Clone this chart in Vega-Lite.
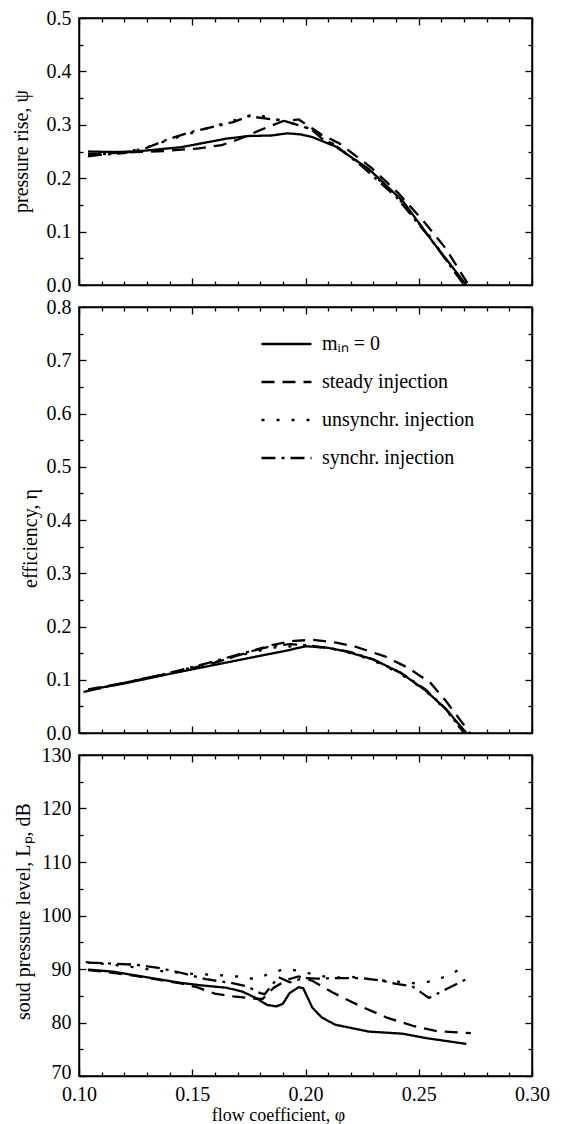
{
  "$schema": "https://vega.github.io/schema/vega-lite/v6.json",
  "padding": {"left": 10, "top": 7, "right": 5, "bottom": 1},
  "background": "white",
  "datasets": {
    "psi": [
      {"s": "mᵢₙ = 0", "x": 0.104, "y": 0.250}, {"s": "mᵢₙ = 0", "x": 0.115, "y": 0.249}, {"s": "mᵢₙ = 0", "x": 0.125, "y": 0.250}, {"s": "mᵢₙ = 0", "x": 0.135, "y": 0.254}, {"s": "mᵢₙ = 0", "x": 0.145, "y": 0.258}, {"s": "mᵢₙ = 0", "x": 0.155, "y": 0.266}, {"s": "mᵢₙ = 0", "x": 0.165, "y": 0.274}, {"s": "mᵢₙ = 0", "x": 0.175, "y": 0.279}, {"s": "mᵢₙ = 0", "x": 0.185, "y": 0.280}, {"s": "mᵢₙ = 0", "x": 0.192, "y": 0.284}, {"s": "mᵢₙ = 0", "x": 0.198, "y": 0.282}, {"s": "mᵢₙ = 0", "x": 0.203, "y": 0.277}, {"s": "mᵢₙ = 0", "x": 0.213, "y": 0.260}, {"s": "mᵢₙ = 0", "x": 0.228, "y": 0.217}, {"s": "mᵢₙ = 0", "x": 0.243, "y": 0.157}, {"s": "mᵢₙ = 0", "x": 0.256, "y": 0.082}, {"s": "mᵢₙ = 0", "x": 0.271, "y": 0.0},
      {"s": "steady injection", "x": 0.104, "y": 0.245}, {"s": "steady injection", "x": 0.115, "y": 0.247}, {"s": "steady injection", "x": 0.125, "y": 0.249}, {"s": "steady injection", "x": 0.138, "y": 0.251}, {"s": "steady injection", "x": 0.153, "y": 0.256}, {"s": "steady injection", "x": 0.163, "y": 0.262}, {"s": "steady injection", "x": 0.170, "y": 0.272}, {"s": "steady injection", "x": 0.180, "y": 0.290}, {"s": "steady injection", "x": 0.190, "y": 0.307}, {"s": "steady injection", "x": 0.197, "y": 0.310}, {"s": "steady injection", "x": 0.203, "y": 0.293}, {"s": "steady injection", "x": 0.207, "y": 0.282}, {"s": "steady injection", "x": 0.215, "y": 0.265}, {"s": "steady injection", "x": 0.229, "y": 0.220}, {"s": "steady injection", "x": 0.241, "y": 0.172}, {"s": "steady injection", "x": 0.252, "y": 0.120}, {"s": "steady injection", "x": 0.262, "y": 0.068}, {"s": "steady injection", "x": 0.272, "y": 0.0},
      {"s": "unsynchr. injection", "x": 0.104, "y": 0.243}, {"s": "unsynchr. injection", "x": 0.110, "y": 0.245}, {"s": "unsynchr. injection", "x": 0.120, "y": 0.248}, {"s": "unsynchr. injection", "x": 0.130, "y": 0.258}, {"s": "unsynchr. injection", "x": 0.140, "y": 0.272}, {"s": "unsynchr. injection", "x": 0.150, "y": 0.285}, {"s": "unsynchr. injection", "x": 0.160, "y": 0.298}, {"s": "unsynchr. injection", "x": 0.170, "y": 0.310}, {"s": "unsynchr. injection", "x": 0.177, "y": 0.320}, {"s": "unsynchr. injection", "x": 0.185, "y": 0.313}, {"s": "unsynchr. injection", "x": 0.192, "y": 0.305}, {"s": "unsynchr. injection", "x": 0.200, "y": 0.296}, {"s": "unsynchr. injection", "x": 0.205, "y": 0.285}, {"s": "unsynchr. injection", "x": 0.212, "y": 0.265}, {"s": "unsynchr. injection", "x": 0.225, "y": 0.225}, {"s": "unsynchr. injection", "x": 0.240, "y": 0.168}, {"s": "unsynchr. injection", "x": 0.255, "y": 0.090}, {"s": "unsynchr. injection", "x": 0.270, "y": 0.0},
      {"s": "synchr. injection", "x": 0.104, "y": 0.241}, {"s": "synchr. injection", "x": 0.110, "y": 0.244}, {"s": "synchr. injection", "x": 0.120, "y": 0.247}, {"s": "synchr. injection", "x": 0.130, "y": 0.257}, {"s": "synchr. injection", "x": 0.140, "y": 0.274}, {"s": "synchr. injection", "x": 0.150, "y": 0.287}, {"s": "synchr. injection", "x": 0.160, "y": 0.297}, {"s": "synchr. injection", "x": 0.168, "y": 0.305}, {"s": "synchr. injection", "x": 0.175, "y": 0.316}, {"s": "synchr. injection", "x": 0.182, "y": 0.312}, {"s": "synchr. injection", "x": 0.190, "y": 0.308}, {"s": "synchr. injection", "x": 0.198, "y": 0.298}, {"s": "synchr. injection", "x": 0.203, "y": 0.290}, {"s": "synchr. injection", "x": 0.207, "y": 0.275}, {"s": "synchr. injection", "x": 0.213, "y": 0.262}, {"s": "synchr. injection", "x": 0.225, "y": 0.222}, {"s": "synchr. injection", "x": 0.240, "y": 0.165}, {"s": "synchr. injection", "x": 0.255, "y": 0.088}, {"s": "synchr. injection", "x": 0.270, "y": 0.0}
    ],
    "eta": [
      {"s": "mᵢₙ = 0", "x": 0.104, "y": 0.081}, {"s": "mᵢₙ = 0", "x": 0.120, "y": 0.093}, {"s": "mᵢₙ = 0", "x": 0.140, "y": 0.111}, {"s": "mᵢₙ = 0", "x": 0.160, "y": 0.128}, {"s": "mᵢₙ = 0", "x": 0.180, "y": 0.145}, {"s": "mᵢₙ = 0", "x": 0.192, "y": 0.155}, {"s": "mᵢₙ = 0", "x": 0.200, "y": 0.163}, {"s": "mᵢₙ = 0", "x": 0.210, "y": 0.160}, {"s": "mᵢₙ = 0", "x": 0.218, "y": 0.153}, {"s": "mᵢₙ = 0", "x": 0.230, "y": 0.138}, {"s": "mᵢₙ = 0", "x": 0.242, "y": 0.113}, {"s": "mᵢₙ = 0", "x": 0.253, "y": 0.080}, {"s": "mᵢₙ = 0", "x": 0.262, "y": 0.045}, {"s": "mᵢₙ = 0", "x": 0.271, "y": 0.0},
      {"s": "steady injection", "x": 0.104, "y": 0.082}, {"s": "steady injection", "x": 0.120, "y": 0.094}, {"s": "steady injection", "x": 0.140, "y": 0.112}, {"s": "steady injection", "x": 0.160, "y": 0.132}, {"s": "steady injection", "x": 0.175, "y": 0.152}, {"s": "steady injection", "x": 0.185, "y": 0.165}, {"s": "steady injection", "x": 0.195, "y": 0.173}, {"s": "steady injection", "x": 0.203, "y": 0.175}, {"s": "steady injection", "x": 0.213, "y": 0.170}, {"s": "steady injection", "x": 0.222, "y": 0.162}, {"s": "steady injection", "x": 0.235, "y": 0.144}, {"s": "steady injection", "x": 0.245, "y": 0.123}, {"s": "steady injection", "x": 0.255, "y": 0.095}, {"s": "steady injection", "x": 0.262, "y": 0.060}, {"s": "steady injection", "x": 0.2726, "y": 0.0},
      {"s": "unsynchr. injection", "x": 0.102, "y": 0.077}, {"s": "unsynchr. injection", "x": 0.120, "y": 0.094}, {"s": "unsynchr. injection", "x": 0.140, "y": 0.113}, {"s": "unsynchr. injection", "x": 0.160, "y": 0.133}, {"s": "unsynchr. injection", "x": 0.175, "y": 0.150}, {"s": "unsynchr. injection", "x": 0.185, "y": 0.160}, {"s": "unsynchr. injection", "x": 0.195, "y": 0.163}, {"s": "unsynchr. injection", "x": 0.200, "y": 0.163}, {"s": "unsynchr. injection", "x": 0.210, "y": 0.160}, {"s": "unsynchr. injection", "x": 0.220, "y": 0.150}, {"s": "unsynchr. injection", "x": 0.230, "y": 0.136}, {"s": "unsynchr. injection", "x": 0.242, "y": 0.111}, {"s": "unsynchr. injection", "x": 0.253, "y": 0.079}, {"s": "unsynchr. injection", "x": 0.262, "y": 0.044}, {"s": "unsynchr. injection", "x": 0.270, "y": 0.0},
      {"s": "synchr. injection", "x": 0.103, "y": 0.078}, {"s": "synchr. injection", "x": 0.120, "y": 0.094}, {"s": "synchr. injection", "x": 0.140, "y": 0.113}, {"s": "synchr. injection", "x": 0.160, "y": 0.135}, {"s": "synchr. injection", "x": 0.175, "y": 0.153}, {"s": "synchr. injection", "x": 0.185, "y": 0.163}, {"s": "synchr. injection", "x": 0.193, "y": 0.167}, {"s": "synchr. injection", "x": 0.200, "y": 0.165}, {"s": "synchr. injection", "x": 0.210, "y": 0.160}, {"s": "synchr. injection", "x": 0.220, "y": 0.152}, {"s": "synchr. injection", "x": 0.230, "y": 0.138}, {"s": "synchr. injection", "x": 0.242, "y": 0.113}, {"s": "synchr. injection", "x": 0.253, "y": 0.082}, {"s": "synchr. injection", "x": 0.262, "y": 0.045}, {"s": "synchr. injection", "x": 0.270, "y": 0.0}
    ],
    "lp": [
      {"s": "mᵢₙ = 0", "x": 0.104, "y": 89.9}, {"s": "mᵢₙ = 0", "x": 0.115, "y": 89.5}, {"s": "mᵢₙ = 0", "x": 0.125, "y": 88.8}, {"s": "mᵢₙ = 0", "x": 0.135, "y": 88.1}, {"s": "mᵢₙ = 0", "x": 0.145, "y": 87.4}, {"s": "mᵢₙ = 0", "x": 0.155, "y": 86.9}, {"s": "mᵢₙ = 0", "x": 0.165, "y": 86.5}, {"s": "mᵢₙ = 0", "x": 0.172, "y": 85.8}, {"s": "mᵢₙ = 0", "x": 0.178, "y": 84.6}, {"s": "mᵢₙ = 0", "x": 0.183, "y": 83.3}, {"s": "mᵢₙ = 0", "x": 0.187, "y": 83.0}, {"s": "mᵢₙ = 0", "x": 0.190, "y": 83.5}, {"s": "mᵢₙ = 0", "x": 0.193, "y": 85.5}, {"s": "mᵢₙ = 0", "x": 0.197, "y": 86.6}, {"s": "mᵢₙ = 0", "x": 0.199, "y": 86.4}, {"s": "mᵢₙ = 0", "x": 0.203, "y": 82.8}, {"s": "mᵢₙ = 0", "x": 0.207, "y": 81.0}, {"s": "mᵢₙ = 0", "x": 0.213, "y": 79.6}, {"s": "mᵢₙ = 0", "x": 0.228, "y": 78.3}, {"s": "mᵢₙ = 0", "x": 0.243, "y": 77.9}, {"s": "mᵢₙ = 0", "x": 0.253, "y": 77.1}, {"s": "mᵢₙ = 0", "x": 0.271, "y": 76.0},
      {"s": "steady injection", "x": 0.104, "y": 89.8}, {"s": "steady injection", "x": 0.115, "y": 89.3}, {"s": "steady injection", "x": 0.125, "y": 88.7}, {"s": "steady injection", "x": 0.135, "y": 88.0}, {"s": "steady injection", "x": 0.145, "y": 87.3}, {"s": "steady injection", "x": 0.152, "y": 86.6}, {"s": "steady injection", "x": 0.160, "y": 85.4}, {"s": "steady injection", "x": 0.168, "y": 84.9}, {"s": "steady injection", "x": 0.176, "y": 84.5}, {"s": "steady injection", "x": 0.181, "y": 84.4}, {"s": "steady injection", "x": 0.186, "y": 86.5}, {"s": "steady injection", "x": 0.192, "y": 88.0}, {"s": "steady injection", "x": 0.197, "y": 88.6}, {"s": "steady injection", "x": 0.203, "y": 87.8}, {"s": "steady injection", "x": 0.212, "y": 85.6}, {"s": "steady injection", "x": 0.224, "y": 83.1}, {"s": "steady injection", "x": 0.236, "y": 80.9}, {"s": "steady injection", "x": 0.248, "y": 79.3}, {"s": "steady injection", "x": 0.258, "y": 78.4}, {"s": "steady injection", "x": 0.273, "y": 78.0},
      {"s": "unsynchr. injection", "x": 0.103, "y": 91.3}, {"s": "unsynchr. injection", "x": 0.115, "y": 90.8}, {"s": "unsynchr. injection", "x": 0.125, "y": 90.3}, {"s": "unsynchr. injection", "x": 0.138, "y": 89.5}, {"s": "unsynchr. injection", "x": 0.150, "y": 89.1}, {"s": "unsynchr. injection", "x": 0.160, "y": 88.9}, {"s": "unsynchr. injection", "x": 0.170, "y": 88.6}, {"s": "unsynchr. injection", "x": 0.178, "y": 88.1}, {"s": "unsynchr. injection", "x": 0.185, "y": 89.3}, {"s": "unsynchr. injection", "x": 0.191, "y": 90.0}, {"s": "unsynchr. injection", "x": 0.198, "y": 89.6}, {"s": "unsynchr. injection", "x": 0.205, "y": 88.8}, {"s": "unsynchr. injection", "x": 0.212, "y": 88.4}, {"s": "unsynchr. injection", "x": 0.221, "y": 88.5}, {"s": "unsynchr. injection", "x": 0.232, "y": 87.9}, {"s": "unsynchr. injection", "x": 0.242, "y": 87.6}, {"s": "unsynchr. injection", "x": 0.249, "y": 87.3}, {"s": "unsynchr. injection", "x": 0.257, "y": 87.8}, {"s": "unsynchr. injection", "x": 0.264, "y": 89.0}, {"s": "unsynchr. injection", "x": 0.270, "y": 90.4},
      {"s": "synchr. injection", "x": 0.104, "y": 91.2}, {"s": "synchr. injection", "x": 0.115, "y": 91.0}, {"s": "synchr. injection", "x": 0.125, "y": 90.8}, {"s": "synchr. injection", "x": 0.135, "y": 90.2}, {"s": "synchr. injection", "x": 0.145, "y": 89.3}, {"s": "synchr. injection", "x": 0.156, "y": 88.1}, {"s": "synchr. injection", "x": 0.167, "y": 87.4}, {"s": "synchr. injection", "x": 0.174, "y": 86.8}, {"s": "synchr. injection", "x": 0.180, "y": 85.5}, {"s": "synchr. injection", "x": 0.182, "y": 85.3}, {"s": "synchr. injection", "x": 0.188, "y": 88.5}, {"s": "synchr. injection", "x": 0.193, "y": 87.5}, {"s": "synchr. injection", "x": 0.199, "y": 88.3}, {"s": "synchr. injection", "x": 0.205, "y": 88.2}, {"s": "synchr. injection", "x": 0.215, "y": 88.3}, {"s": "synchr. injection", "x": 0.225, "y": 88.3}, {"s": "synchr. injection", "x": 0.234, "y": 87.8}, {"s": "synchr. injection", "x": 0.240, "y": 87.2}, {"s": "synchr. injection", "x": 0.247, "y": 86.8}, {"s": "synchr. injection", "x": 0.2545, "y": 84.6}, {"s": "synchr. injection", "x": 0.262, "y": 86.2}, {"s": "synchr. injection", "x": 0.271, "y": 88.1}
    ]
  },
  "spacing": 22,
  "bounds": "flush",
  "resolve": {"scale": {"strokeDash": "independent"}, "legend": {"strokeDash": "independent"}},
  "vconcat": [
    {
      "width": 453, "height": 267,
      "data": {"name": "psi"},
      "layer": [
        {
          "mark": {"type": "line", "color": "black", "strokeWidth": 2.3},
          "encoding": {
            "x": {"field": "x", "type": "quantitative", "scale": {"domain": [0.1, 0.3], "nice": false, "zero": false},
              "axis": {"orient": "bottom", "values": [0.1,0.11,0.12,0.13,0.14,0.15,0.16,0.17,0.18,0.19,0.2,0.21,0.22,0.23,0.24,0.25,0.26,0.27,0.28,0.29,0.3], "labels": false, "title": null,
                "tickSize": {"condition": {"test": "abs(datum.value*20 - round(datum.value*20)) < 0.001", "value": -7}, "value": -4}}},
            "y": {"field": "y", "type": "quantitative", "scale": {"domain": [0, 0.5], "nice": false, "zero": false},
              "axis": {"orient": "left", "values": [0,0.05,0.1,0.15,0.2,0.25,0.3,0.35,0.4,0.45,0.5],
                "labelExpr": "abs(datum.value*10 - round(datum.value*10)) < 0.001 ? format(datum.value, '.1f') : ''",
                "tickSize": {"condition": {"test": "abs(datum.value*10 - round(datum.value*10)) < 0.001", "value": -7}, "value": -4},
                "labelPadding": 15, "title": "pressure rise, ψ", "titleX": -52, "titleY": 133, "titleBaseline": "alphabetic"}},
            "strokeDash": {"field": "s", "type": "nominal", "legend": null,
              "scale": {"domain": ["mᵢₙ = 0", "steady injection", "unsynchr. injection", "synchr. injection"], "range": [[1, 0], [13, 8], [3, 12], [14, 6, 3, 6]]}}
          }
        },
        {
          "mark": {"type": "point", "opacity": 0},
          "encoding": {
            "x": {"field": "x", "type": "quantitative", "scale": {"domain": [0.1, 0.3], "nice": false, "zero": false},
              "axis": {"orient": "top", "values": [0.1,0.11,0.12,0.13,0.14,0.15,0.16,0.17,0.18,0.19,0.2,0.21,0.22,0.23,0.24,0.25,0.26,0.27,0.28,0.29,0.3], "labels": false, "title": null,
                "tickSize": {"condition": {"test": "abs(datum.value*20 - round(datum.value*20)) < 0.001", "value": -7}, "value": -4}}},
            "y": {"field": "y", "type": "quantitative", "scale": {"domain": [0, 0.5], "nice": false, "zero": false},
              "axis": {"orient": "right", "values": [0,0.05,0.1,0.15,0.2,0.25,0.3,0.35,0.4,0.45,0.5], "labels": false, "title": null,
                "tickSize": {"condition": {"test": "abs(datum.value*10 - round(datum.value*10)) < 0.001", "value": -7}, "value": -4}}}
          }
        }
      ],
      "resolve": {"axis": {"x": "independent", "y": "independent"}}
    },
    {
      "width": 453, "height": 426,
      "data": {"name": "eta"},
      "layer": [
        {
          "mark": {"type": "line", "color": "black", "strokeWidth": 2.3},
          "encoding": {
            "x": {"field": "x", "type": "quantitative", "scale": {"domain": [0.1, 0.3], "nice": false, "zero": false},
              "axis": {"orient": "bottom", "values": [0.1,0.11,0.12,0.13,0.14,0.15,0.16,0.17,0.18,0.19,0.2,0.21,0.22,0.23,0.24,0.25,0.26,0.27,0.28,0.29,0.3], "labels": false, "title": null,
                "tickSize": {"condition": {"test": "abs(datum.value*20 - round(datum.value*20)) < 0.001", "value": -7}, "value": -4}}},
            "y": {"field": "y", "type": "quantitative", "scale": {"domain": [0, 0.8], "nice": false, "zero": false},
              "axis": {"orient": "left", "values": [0,0.05,0.1,0.15,0.2,0.25,0.3,0.35,0.4,0.45,0.5,0.55,0.6,0.65,0.7,0.75,0.8],
                "labelExpr": "abs(datum.value*10 - round(datum.value*10)) < 0.001 ? format(datum.value, '.1f') : ''",
                "tickSize": {"condition": {"test": "abs(datum.value*10 - round(datum.value*10)) < 0.001", "value": -7}, "value": -4},
                "labelPadding": 15, "title": "efficiency, η", "titleX": -43, "titleY": 231, "titleBaseline": "alphabetic"}},
            "strokeDash": {"field": "s", "type": "nominal",
              "scale": {"domain": ["mᵢₙ = 0", "steady injection", "unsynchr. injection", "synchr. injection"], "range": [[1, 0], [13, 8], [3, 12], [14, 6, 3, 6]]},
              "legend": {"orient": "none", "legendX": 181, "legendY": 22, "title": null, "symbolType": "stroke", "symbolSize": 2500, "symbolStrokeWidth": 2.3, "symbolStrokeColor": "black", "clipHeight": 30, "rowPadding": 8, "labelOffset": 9, "labelFontSize": 20, "labelFont": "Liberation Serif", "labelColor": "black", "padding": 0, "labelLimit": 300}}
          }
        },
        {
          "mark": {"type": "point", "opacity": 0},
          "encoding": {
            "x": {"field": "x", "type": "quantitative", "scale": {"domain": [0.1, 0.3], "nice": false, "zero": false},
              "axis": {"orient": "top", "values": [0.1,0.11,0.12,0.13,0.14,0.15,0.16,0.17,0.18,0.19,0.2,0.21,0.22,0.23,0.24,0.25,0.26,0.27,0.28,0.29,0.3], "labels": false, "title": null,
                "tickSize": {"condition": {"test": "abs(datum.value*20 - round(datum.value*20)) < 0.001", "value": -7}, "value": -4}}},
            "y": {"field": "y", "type": "quantitative", "scale": {"domain": [0, 0.8], "nice": false, "zero": false},
              "axis": {"orient": "right", "values": [0,0.05,0.1,0.15,0.2,0.25,0.3,0.35,0.4,0.45,0.5,0.55,0.6,0.65,0.7,0.75,0.8], "labels": false, "title": null,
                "tickSize": {"condition": {"test": "abs(datum.value*10 - round(datum.value*10)) < 0.001", "value": -7}, "value": -4}}}
          }
        }
      ],
      "resolve": {"axis": {"x": "independent", "y": "independent"}}
    },
    {
      "width": 453, "height": 321,
      "data": {"name": "lp"},
      "layer": [
        {
          "mark": {"type": "line", "color": "black", "strokeWidth": 2.3},
          "encoding": {
            "x": {"field": "x", "type": "quantitative", "scale": {"domain": [0.1, 0.3], "nice": false, "zero": false},
              "axis": {"orient": "bottom", "values": [0.1,0.11,0.12,0.13,0.14,0.15,0.16,0.17,0.18,0.19,0.2,0.21,0.22,0.23,0.24,0.25,0.26,0.27,0.28,0.29,0.3],
                "labelExpr": "abs(datum.value*20 - round(datum.value*20)) < 0.001 ? format(datum.value, '.2f') : ''",
                "tickSize": {"condition": {"test": "abs(datum.value*20 - round(datum.value*20)) < 0.001", "value": -7}, "value": -4},
                "labelPadding": 15, "title": "flow coefficient, φ", "titleX": 199, "titleY": 44, "titleBaseline": "alphabetic", "titleFontSize": 18}},
            "y": {"field": "y", "type": "quantitative", "scale": {"domain": [70, 130], "nice": false, "zero": false},
              "axis": {"orient": "left", "values": [70,75,80,85,90,95,100,105,110,115,120,125,130],
                "labelExpr": "datum.value % 10 == 0 ? format(datum.value, 'd') : ''",
                "labelOffset": {"condition": {"test": "datum.value == 70", "value": -4}, "value": 0},
                "tickSize": {"condition": {"test": "datum.value % 10 == 0", "value": -7}, "value": -4},
                "labelPadding": 15, "title": "soud pressure level, Lₚ, dB", "titleX": -50, "titleY": 156, "titleBaseline": "alphabetic"}},
            "strokeDash": {"field": "s", "type": "nominal", "legend": null,
              "scale": {"domain": ["mᵢₙ = 0", "steady injection", "unsynchr. injection", "synchr. injection"], "range": [[1, 0], [13, 8], [3, 12], [14, 6, 3, 6]]}}
          }
        },
        {
          "mark": {"type": "point", "opacity": 0},
          "encoding": {
            "x": {"field": "x", "type": "quantitative", "scale": {"domain": [0.1, 0.3], "nice": false, "zero": false},
              "axis": {"orient": "top", "values": [0.1,0.11,0.12,0.13,0.14,0.15,0.16,0.17,0.18,0.19,0.2,0.21,0.22,0.23,0.24,0.25,0.26,0.27,0.28,0.29,0.3], "labels": false, "title": null,
                "tickSize": {"condition": {"test": "abs(datum.value*20 - round(datum.value*20)) < 0.001", "value": -7}, "value": -4}}},
            "y": {"field": "y", "type": "quantitative", "scale": {"domain": [70, 130], "nice": false, "zero": false},
              "axis": {"orient": "right", "values": [70,75,80,85,90,95,100,105,110,115,120,125,130], "labels": false, "title": null,
                "tickSize": {"condition": {"test": "datum.value % 10 == 0", "value": -7}, "value": -4}}}
          }
        }
      ],
      "resolve": {"axis": {"x": "independent", "y": "independent"}}
    }
  ],
  "config": {
    "font": "Liberation Serif",
    "view": {"stroke": "black", "strokeWidth": 1.5},
    "axis": {
      "grid": false, "domainColor": "black", "domainWidth": 1.5, "tickColor": "black", "tickWidth": 1.3,
      "labelColor": "black", "labelFont": "Liberation Serif", "labelFontSize": 20, "labelOverlap": false, "labelFlush": false,
      "titleColor": "black", "titleFont": "Liberation Serif", "titleFontSize": 20, "titleFontWeight": "normal"
    },
    "legend": {"labelFont": "Liberation Serif", "labelFontSize": 20, "labelColor": "black"}
  }
}
